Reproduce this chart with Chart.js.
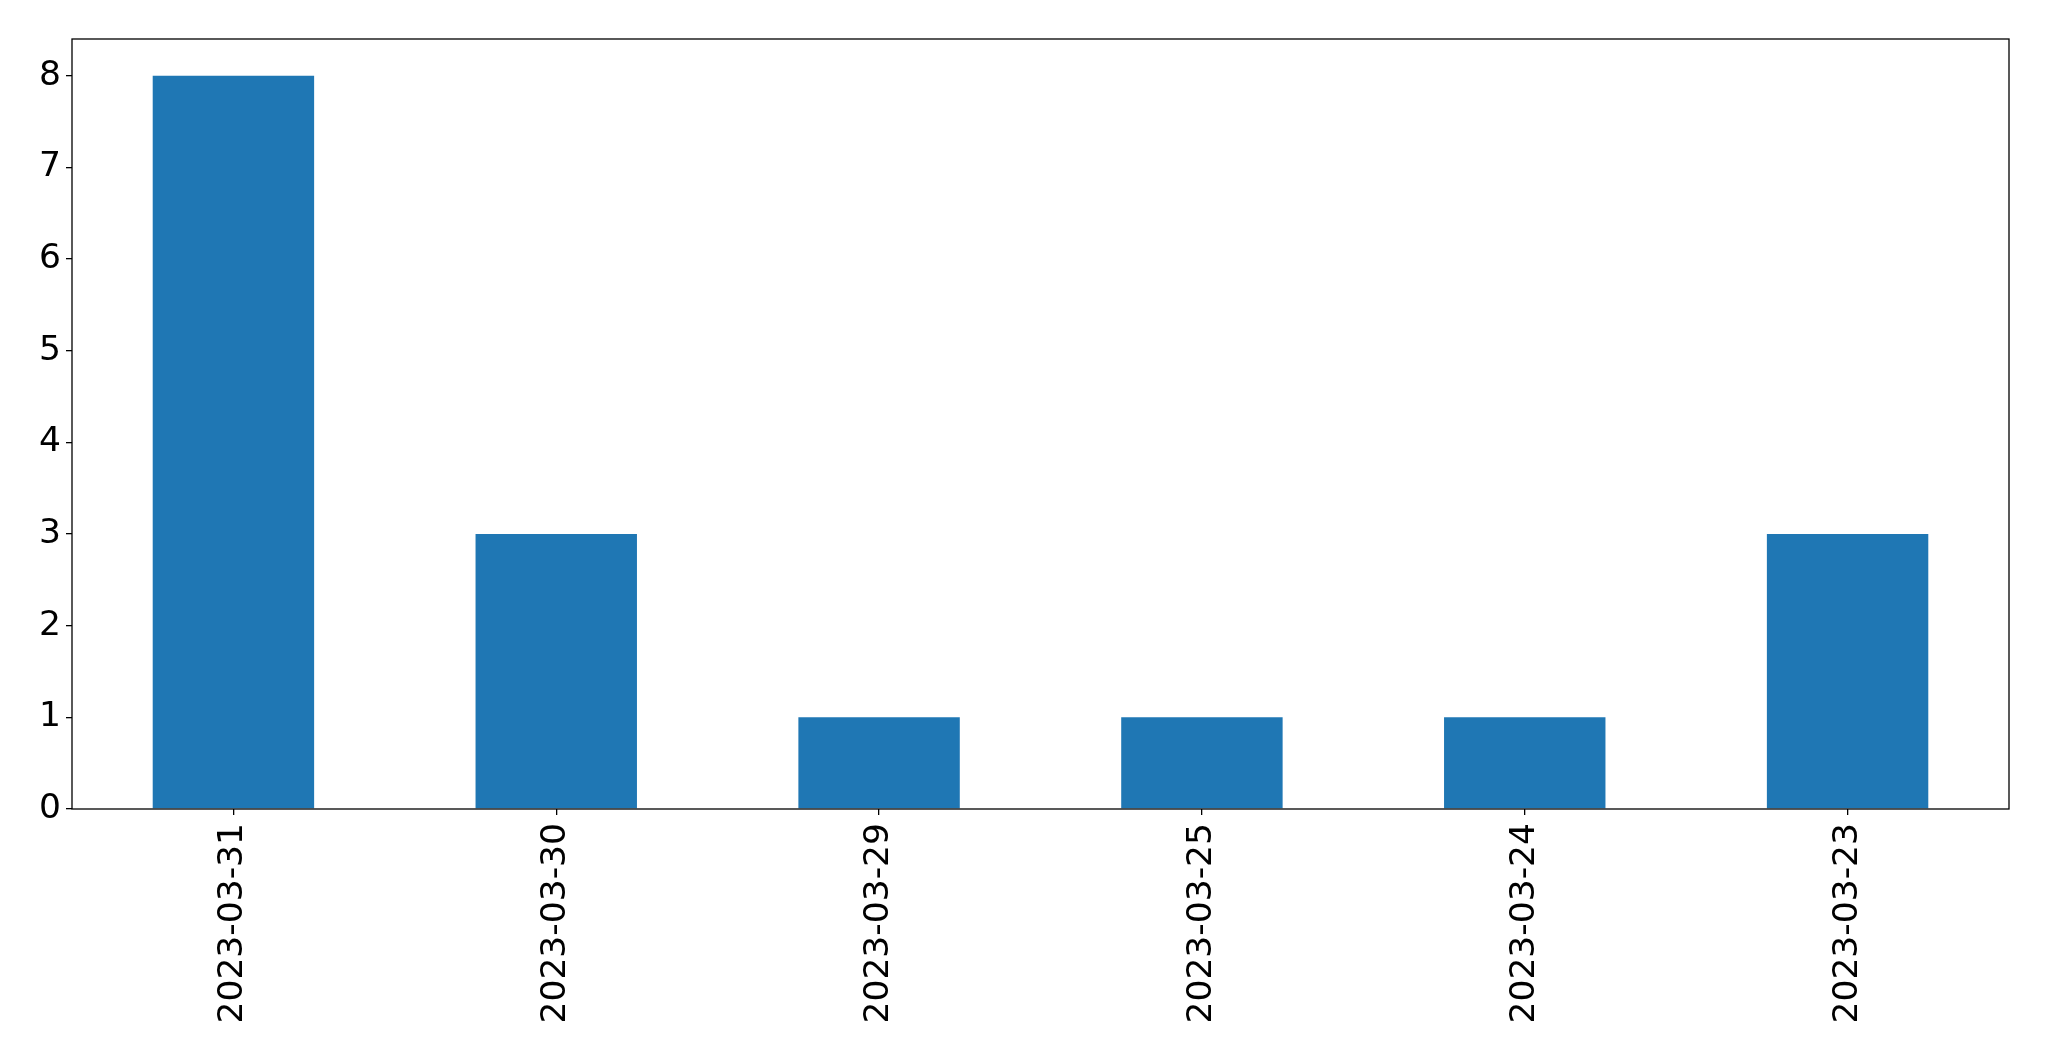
<!DOCTYPE html>
<html>
<head>
<meta charset="utf-8">
<script src="https://cdn.jsdelivr.net/npm/chart.js@4/dist/chart.umd.min.js"></script>
<style>
  html, body { margin: 0; padding: 0; background: #fff; }
  #wrap { width: 2049px; height: 1061px; }
</style>
</head>
<body>
<div id="wrap"><canvas id="barChart" width="2049" height="1061"></canvas></div>
<script>
const dates = ['2023-03-31', '2023-03-30', '2023-03-29', '2023-03-25', '2023-03-24', '2023-03-23'];
const counts = [8, 3, 1, 1, 1, 3];
const yTicks = [0, 1, 2, 3, 4, 5, 6, 7, 8];

// box around the plot area, like matplotlib spines
const frame = {
    id: 'frame',
    afterDraw(chart) {
        const { ctx, chartArea: a } = chart;
        ctx.save();
        ctx.strokeStyle = '#000';
        ctx.lineWidth = 1.3;
        ctx.strokeRect(a.left, a.top, a.right - a.left, a.bottom - a.top);
        ctx.restore();
    }
};

const ctx = document.getElementById('barChart').getContext('2d');
new Chart(ctx, {
    type: 'bar',
    data: {
        labels: dates,
        datasets: [{
            data: counts,
            backgroundColor: '#1f77b4',
            borderWidth: 0,
            categoryPercentage: 1.0,
            barPercentage: 0.5
        }]
    },
    options: {
        responsive: false,
        animation: false,
        layout: { padding: { left: 0, top: 39, right: 40, bottom: 0 } },
        plugins: {
            legend: { display: false },
            tooltip: { enabled: false }
        },
        scales: {
            x: {
                grid: { offset: false, drawOnChartArea: false, drawTicks: true, tickLength: 6, color: '#000', lineWidth: 1.3 },
                border: { display: false },
                ticks: {
                    color: '#000',
                    font: { family: 'DejaVu Sans', size: 34.5 },
                    minRotation: 90,
                    maxRotation: 90,
                    padding: 8
                },
                afterFit(scale) { scale.height = 252; }
            },
            y: {
                min: 0,
                max: 8.4,
                afterBuildTicks(scale) { scale.ticks = yTicks.map(v => ({ value: v })); },
                grid: { drawOnChartArea: false, drawTicks: true, tickLength: 6, color: '#000', lineWidth: 1.3 },
                border: { display: false },
                ticks: {
                    color: '#000',
                    font: { family: 'DejaVu Sans', size: 34.5 },
                    padding: 5
                },
                afterFit(scale) { scale.width = 72; }
            }
        }
    },
    plugins: [frame]
});
</script>
</body>
</html>
